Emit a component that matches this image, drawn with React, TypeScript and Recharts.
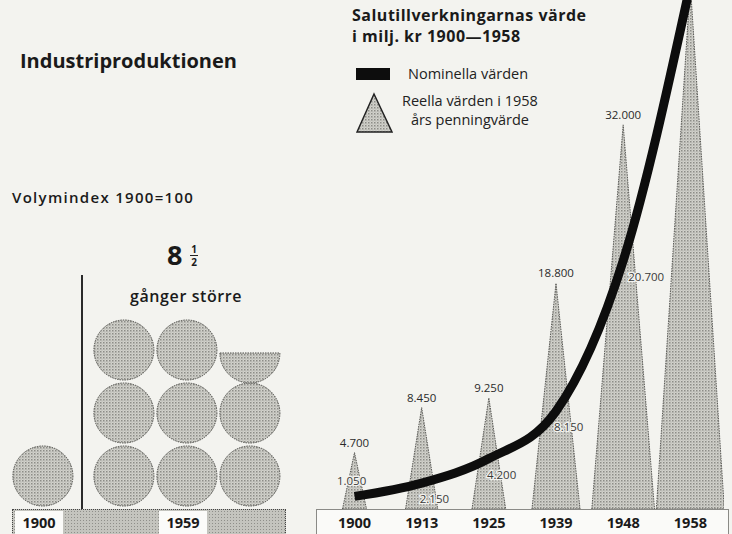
import React from 'react';
import { ComposedChart, BarChart, Bar, Line, XAxis, YAxis, LabelList, Legend } from 'recharts';

// ---- Data ----
const years = ['1900', '1913', '1925', '1939', '1948', '1958'];
const realValues = [4700, 8450, 9250, 18800, 32000, 43700]; // Reella värden i 1958 års penningvärde
const nominalValues = [1050, 2150, 4200, 8150, 20700, 43700]; // Nominella värden
const volumeYears = ['1900', '1959'];
const volumeIndex = [100, 850]; // Volymindex 1900=100

const salesData = years.map((y, i) => ({ year: y, real: realValues[i], nominal: nominalValues[i] }));
const volumeData = volumeYears.map((y, i) => ({ year: y, index: volumeIndex[i] }));

const FONT = '"Open Sans", Lato, sans-serif';
const BG = '#f3f3ef';

const fmt = (v: number) => String(v).replace(/\B(?=(\d{3})+(?!\d))/g, '.');

// ---- Shapes ----
const Triangle = (props: any) => {
  const { x, y, width, height } = props;
  if (height <= 0) return null;
  const cx = x + width / 2;
  const base = y + height;
  const w = Math.min(3.2 * Math.sqrt(height), 68);
  return (
    <path
      d={`M${cx - w / 2},${base} L${cx},${y} L${cx + w / 2},${base} Z`}
      fill="url(#stippleR)"
      stroke="#4a4a46"
      strokeWidth={0.9}
      strokeDasharray="1.5 1"
    />
  );
};

const CircleStack = (props: any) => {
  const { x, width, y, height, payload } = props;
  const n = payload.index / 100;
  const cols = Math.ceil(Math.sqrt(n));
  const r = 30;
  const step = 63;
  const center = x + width / 2;
  const base = y + height;
  const items: React.ReactNode[] = [];
  for (let i = 0; i < Math.ceil(n); i++) {
    const row = Math.floor(i / cols);
    const col = i % cols;
    const cx = center + (col - (cols - 1) / 2) * step;
    const cy = base - 3 - r - row * step;
    const frac = Math.min(1, n - i);
    if (frac >= 1) {
      items.push(
        <circle key={i} cx={cx} cy={cy} r={r} fill="url(#stippleL)" stroke="#4a4a46" strokeWidth={1} strokeDasharray="1.5 1" />
      );
    } else {
      items.push(
        <path
          key={i}
          d={`M${cx - r},${cy + 3} A${r},${r} 0 0 0 ${cx + r},${cy + 3} Z`}
          fill="url(#stippleL)"
          stroke="#4a4a46"
          strokeWidth={1}
          strokeDasharray="1.5 1"
        />
      );
    }
  }
  return <g>{items}</g>;
};

const RealLabel = (props: any) => {
  const { x, y, width, value } = props;
  if (y < 14) return null;
  return (
    <text x={x + width / 2} y={y - 6} textAnchor="middle" fontFamily={FONT} fontSize={11.5} fill="#2a2a2a">
      {fmt(value)}
    </text>
  );
};

const NomLabel = (props: any) => {
  const { x, y, value, index } = props;
  if (index === years.length - 1) return null;
  const first = index === 0;
  const tx = first ? x - 3 : x + (index === 4 ? 5 : -2);
  const ty = first ? y - 11 : y + 20;
  return (
    <text
      x={tx}
      y={ty}
      textAnchor={first ? 'middle' : 'start'}
      fontFamily={FONT}
      fontSize={11.5}
      fill="#3a3a3a"
      stroke="#f3f3ef"
      strokeWidth={2.5}
      paintOrder="stroke"
    >
      {fmt(value)}
    </text>
  );
};

const RightTick = (props: any) => {
  const { x, payload } = props;
  return (
    <text x={x} y={528} textAnchor="middle" fontFamily={FONT} fontWeight={700} fontSize={14.5} fill="#1a1a1a">
      {payload.value}
    </text>
  );
};

const LeftTick = (props: any) => {
  const { x, payload } = props;
  return (
    <g>
      <rect x={x - 4 - 24} y={511} width={48} height={23} fill="#fbfbf9" />
      <text x={x - 4} y={528} textAnchor="middle" fontFamily={FONT} fontWeight={700} fontSize={14.5} fill="#1a1a1a">
        {payload.value}
      </text>
    </g>
  );
};

const renderLegend = () => (
  <div style={{ position: 'relative', width: 220, height: 70, fontFamily: FONT, fontSize: 14.5, color: '#222' }}>
    <svg width={40} height={70} style={{ position: 'absolute', left: 0, top: 0 }}>
      <rect x={0} y={0} width={34} height={12} fill="#0d0d0d" />
      <path d="M18,26 L36,64 L1,64 Z" fill="url(#stippleR)" stroke="#222" strokeWidth={1.5} />
    </svg>
    <div style={{ position: 'absolute', left: 52, top: -4, whiteSpace: 'nowrap' }}>Nominella värden</div>
    <div style={{ position: 'absolute', left: 46, top: 23, textAlign: 'center', lineHeight: '19px', whiteSpace: 'nowrap' }}>
      Reella värden i 1958
      <br />
      års penningvärde
    </div>
  </div>
);

const Stipple = ({ id }: { id: string }) => (
  <defs>
    <pattern id={id} width={3} height={3} patternUnits="userSpaceOnUse">
      <rect width={3} height={3} fill="#d2d2cc" />
      <rect width={1.5} height={1.5} fill="#8c8c87" />
      <rect x={1.5} y={1.5} width={1} height={1} fill="#a6a6a1" />
    </pattern>
  </defs>
);

export default function App() {
  return (
    <div
      style={{
        position: 'absolute',
        left: 0,
        top: 0,
        width: 732,
        height: 534,
        background: BG,
        overflow: 'hidden',
        fontFamily: FONT,
        color: '#1a1a1a',
      }}
    >
      {/* Left panel titles */}
      <div style={{ position: 'absolute', left: 20, top: 47, fontSize: 20, fontWeight: 700, whiteSpace: 'nowrap' }}>
        Industriproduktionen
      </div>
      <div
        style={{ position: 'absolute', left: 12, top: 187, fontSize: 15, fontWeight: 600, letterSpacing: 1.3, whiteSpace: 'nowrap' }}
      >
        Volymindex 1900=100
      </div>
      <div style={{ position: 'absolute', left: 167, top: 238, fontSize: 27, fontWeight: 700, lineHeight: '34px' }}>8</div>
      <div
        style={{
          position: 'absolute',
          left: 189,
          top: 244,
          fontSize: 10,
          fontWeight: 700,
          lineHeight: '10px',
          textAlign: 'center',
          width: 10,
        }}
      >
        1
        <div style={{ borderTop: '1px solid #222', margin: '1px 1px' }} />
        2
      </div>
      <div
        style={{ position: 'absolute', left: 130, top: 285, fontSize: 16, fontWeight: 600, letterSpacing: 0.6, whiteSpace: 'nowrap' }}
      >
        gånger större
      </div>

      {/* Left base bar */}
      <div
        style={{
          position: 'absolute',
          left: 12,
          top: 509,
          width: 272,
          height: 30,
          background: '#c4c4be',
          backgroundImage: 'radial-gradient(#8f8f8a 0.8px, transparent 0.9px)',
          backgroundSize: '3px 3px',
          border: '1px dotted #444',
        }}
      />
      {/* separator */}
      <div style={{ position: 'absolute', left: 81, top: 275, width: 2, height: 234, background: '#2a2a2a' }} />

      {/* Right base box */}
      <div
        style={{
          position: 'absolute',
          left: 316,
          top: 509,
          width: 411,
          height: 30,
          background: '#fafaf8',
          border: '1px solid #8a8a86',
        }}
      />

      {/* Right titles */}
      <div
        style={{
          position: 'absolute',
          left: 352,
          top: 5,
          fontSize: 16,
          fontWeight: 700,
          letterSpacing: 0.5,
          lineHeight: '21px',
          whiteSpace: 'nowrap',
        }}
      >
        Salutillverkningarnas värde
        <br />
        i milj. kr 1900—1958
      </div>

      {/* Left chart: circles */}
      <div style={{ position: 'absolute', left: -29, top: 0 }}>
        <BarChart width={330} height={534} data={volumeData} margin={{ top: 0, right: 42, bottom: 0, left: 0 }}>
          <Stipple id="stippleL" />
          <XAxis dataKey="year" height={25} axisLine={false} tickLine={false} tick={<LeftTick />} interval={0} />
          <YAxis hide domain={[0, 850]} />
          <Bar dataKey="index" shape={<CircleStack />} isAnimationActive={false} />
        </BarChart>
      </div>

      {/* Right chart: triangles + line */}
      <div style={{ position: 'absolute', left: 321, top: 0 }}>
        <ComposedChart width={403} height={534} data={salesData} margin={{ top: 0, right: 0, bottom: 0, left: 0 }}>
          <Stipple id="stippleR" />
          <XAxis dataKey="year" height={25} axisLine={false} tickLine={false} tick={<RightTick />} interval={0} />
          <YAxis hide domain={[0, 42400]} allowDataOverflow />
          <Legend
            content={renderLegend}
            layout="horizontal"
            verticalAlign="middle"
            align="center"
            wrapperStyle={{ position: 'absolute', left: 35, top: 68, width: 220, height: 70 }}
          />
          <Bar dataKey="real" name="Reella värden i 1958 års penningvärde" shape={<Triangle />} barSize={67} isAnimationActive={false}>
            <LabelList dataKey="real" content={<RealLabel />} />
          </Bar>
          <Line
            dataKey="nominal"
            name="Nominella värden"
            type="monotone"
            stroke="#0d0d0d"
            strokeWidth={9}
            dot={false}
            isAnimationActive={false}
          >
            <LabelList dataKey="nominal" content={<NomLabel />} />
          </Line>
        </ComposedChart>
      </div>
    </div>
  );
}
